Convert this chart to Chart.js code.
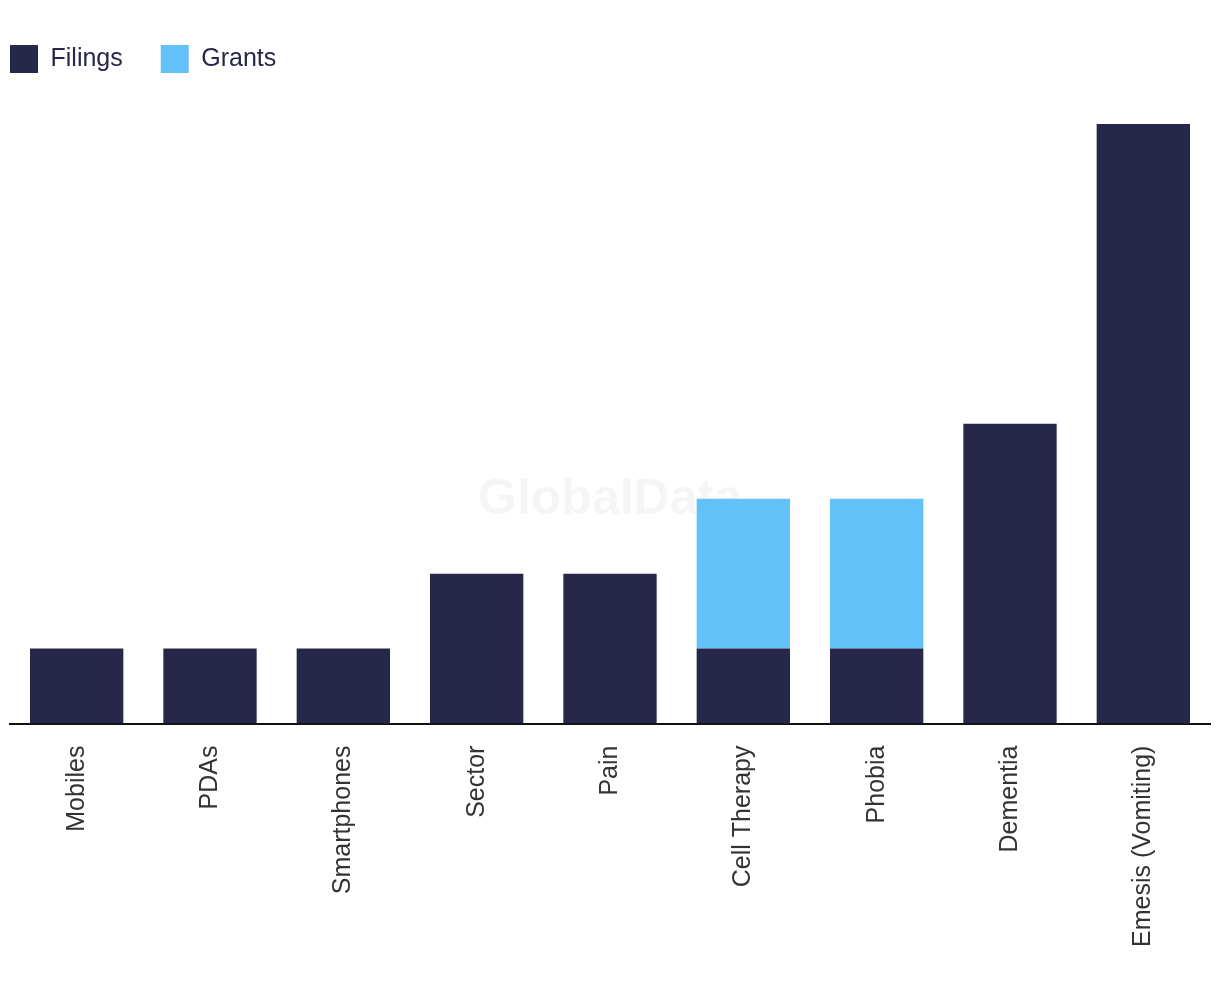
<!DOCTYPE html>
<html>
<head>
<meta charset="utf-8">
<script src="https://cdn.jsdelivr.net/npm/chart.js@4/dist/chart.umd.min.js"></script>
<style>
  html, body { margin: 0; padding: 0; background: #fff; }
  #wrap { width: 1220px; height: 1002px; }
</style>
</head>
<body>
<div id="wrap"><canvas id="patentChart"></canvas></div>
<script>
// Chart data
const categories = ['Mobiles', 'PDAs', 'Smartphones', 'Sector', 'Pain', 'Cell Therapy', 'Phobia', 'Dementia', 'Emesis (Vomiting)'];
const filings = [1, 1, 1, 2, 2, 1, 1, 4, 8];
const grants = [0, 0, 0, 0, 0, 2, 2, 0, 0];

const NAVY = '#27274a';
const SKY = '#63c1f9';
const LEGEND_PAD = 38;

// extra space under the legend, and pull it back to the left edge
const legendMargin = {
    id: 'legendMargin',
    beforeInit(chart) {
        const fit = chart.legend.fit;
        chart.legend.fit = function() {
            fit.bind(chart.legend)();
            this.height += 35;
        };
    },
    beforeDraw(chart) {
        chart.legend.left = 10 - LEGEND_PAD;
        chart.legend.top = 7;
    }
};

// faint watermark behind the bars
const watermark = {
    id: 'watermark',
    beforeDatasetsDraw(chart) {
        const ctx = chart.ctx;
        ctx.save();
        ctx.font = 'bold 50px "Liberation Sans", Arial, sans-serif';
        ctx.fillStyle = 'rgba(0,0,0,0.04)';
        ctx.textAlign = 'center';
        ctx.textBaseline = 'middle';
        ctx.fillText('GlobalData', 610, 500);
        ctx.restore();
    }
};

new Chart(document.getElementById('patentChart'), {
    type: 'bar',
    data: {
        labels: categories,
        datasets: [
            { label: 'Filings', data: filings, backgroundColor: NAVY },
            { label: 'Grants', data: grants, backgroundColor: SKY }
        ]
    },
    options: {
        responsive: true,
        maintainAspectRatio: false,
        animation: false,
        layout: { padding: { top: 13, left: 10, right: 10, bottom: 41 } },
        datasets: { bar: { categoryPercentage: 0.7, barPercentage: 1 } },
        plugins: {
            legend: {
                position: 'top',
                align: 'start',
                labels: {
                    boxWidth: 28,
                    boxHeight: 28,
                    padding: LEGEND_PAD,
                    color: '#27274a',
                    font: { family: '"Liberation Sans", Arial, sans-serif', size: 25 }
                }
            },
            tooltip: { enabled: false }
        },
        scales: {
            x: {
                stacked: true,
                grid: { display: false },
                border: { display: true, color: '#111', width: 2 },
                ticks: {
                    color: '#333',
                    minRotation: 90,
                    maxRotation: 90,
                    padding: 14,
                    font: { family: '"Liberation Sans", Arial, sans-serif', size: 25 }
                }
            },
            y: {
                stacked: true,
                display: false,
                min: 0,
                max: 8
            }
        }
    },
    plugins: [legendMargin, watermark]
});
</script>
</body>
</html>
